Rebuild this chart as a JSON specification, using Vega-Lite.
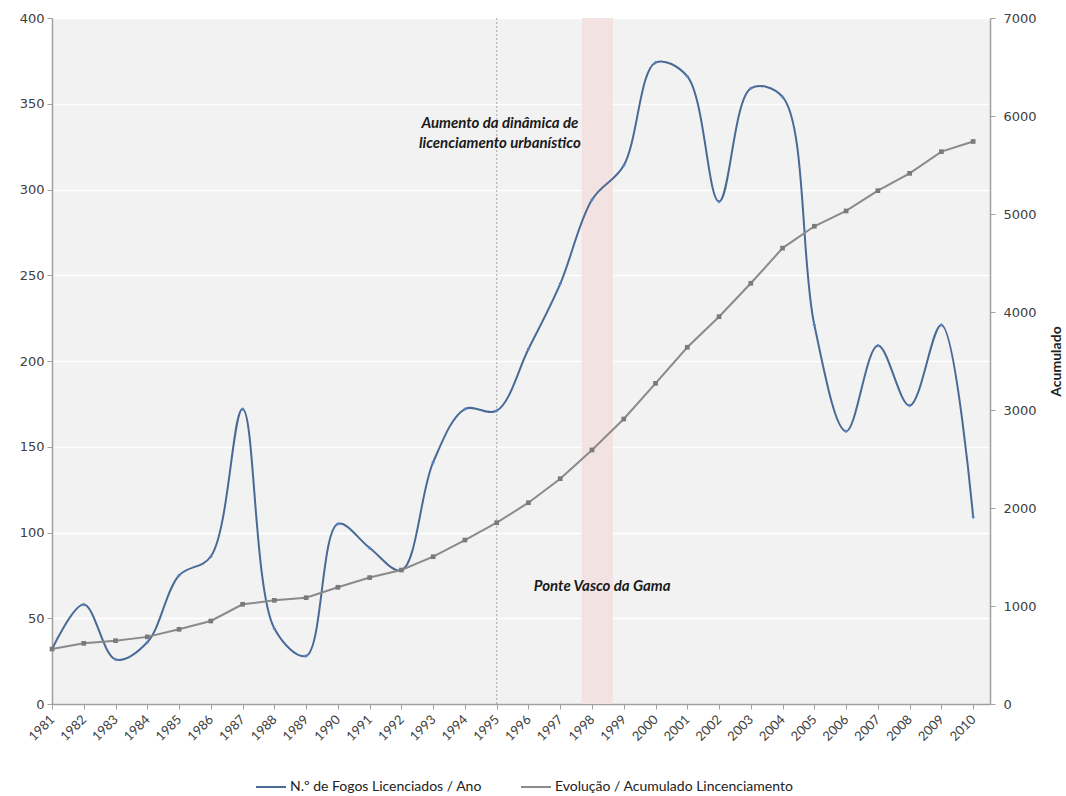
{
  "$schema": "https://vega.github.io/schema/vega-lite/v6.json",
  "autosize": {"type": "none"},
  "width": 938,
  "height": 686,
  "padding": {"left": 52, "top": 18, "right": 76, "bottom": 92},
  "background": "white",
  "config": {
    "view": {"fill": "#f2f2f2", "stroke": null},
    "axis": {"domainColor": "#a0a0a0", "tickColor": "#a0a0a0", "labelColor": "#404040", "domainWidth": 1.5},
    "axisX": {"labelOverlap": false, "labelAngle": -45, "labelAlign": "right", "labelBaseline": "middle", "labelFont": "Lato", "labelFontSize": 13, "tickSize": 5, "labelPadding": 8, "grid": false, "labelFlush": false}
  },
  "datasets": {
    "d": [
      {"year": 1981, "fogos": 32, "acum": 561},
      {"year": 1982, "fogos": 58, "acum": 619},
      {"year": 1983, "fogos": 26, "acum": 646},
      {"year": 1984, "fogos": 36, "acum": 685},
      {"year": 1985, "fogos": 75, "acum": 762},
      {"year": 1986, "fogos": 86, "acum": 847},
      {"year": 1987, "fogos": 172, "acum": 1017},
      {"year": 1988, "fogos": 44, "acum": 1058},
      {"year": 1989, "fogos": 28, "acum": 1085},
      {"year": 1990, "fogos": 105, "acum": 1191},
      {"year": 1991, "fogos": 91, "acum": 1290},
      {"year": 1992, "fogos": 78, "acum": 1367},
      {"year": 1993, "fogos": 141, "acum": 1503},
      {"year": 1994, "fogos": 172, "acum": 1673},
      {"year": 1995, "fogos": 171, "acum": 1850},
      {"year": 1996, "fogos": 207, "acum": 2054},
      {"year": 1997, "fogos": 245, "acum": 2299},
      {"year": 1998, "fogos": 294, "acum": 2592},
      {"year": 1999, "fogos": 314, "acum": 2908},
      {"year": 2000, "fogos": 374, "acum": 3272},
      {"year": 2001, "fogos": 366, "acum": 3640},
      {"year": 2002, "fogos": 293, "acum": 3952},
      {"year": 2003, "fogos": 359, "acum": 4293},
      {"year": 2004, "fogos": 354, "acum": 4652},
      {"year": 2005, "fogos": 221, "acum": 4875},
      {"year": 2006, "fogos": 159, "acum": 5031},
      {"year": 2007, "fogos": 209, "acum": 5238},
      {"year": 2008, "fogos": 174, "acum": 5415},
      {"year": 2009, "fogos": 221, "acum": 5636},
      {"year": 2010, "fogos": 109, "acum": 5740}
    ],
    "band": [{"from": 1997.68, "to": 1998.66}],
    "marker": [{"year": 1995}],
    "notes": [
      {"year": 1995.1, "value": 339, "label": "Aumento da dinâmica de"},
      {"year": 1995.1, "value": 327, "label": "licenciamento urbanístico"},
      {"year": 1998.32, "value": 69, "label": "Ponte Vasco da Gama"}
    ]
  },
  "layer": [
    {
      "layer": [
        {
          "data": {"name": "band"},
          "mark": {"type": "rect", "color": "#f3e2e2", "opacity": 1},
          "encoding": {
            "x": {
              "field": "from", "type": "quantitative", "scale": {"domain": [1981, 2010.53], "nice": false, "zero": false},
              "axis": {
                "values": [1981,1982,1983,1984,1985,1986,1987,1988,1989,1990,1991,1992,1993,1994,1995,1996,1997,1998,1999,2000,2001,2002,2003,2004,2005,2006,2007,2008,2009,2010],
                "tickCount": 60, "format": "d", "title": null, "labelOverlap": false
              }
            },
            "x2": {"field": "to"}
          }
        },
        {
          "data": {"name": "marker"},
          "mark": {"type": "rule", "color": "#a8a8a8", "strokeDash": [2, 2], "strokeWidth": 1},
          "encoding": {
            "x": {"field": "year", "type": "quantitative"}
          }
        },
        {
          "data": {"name": "d"},
          "mark": {"type": "line", "interpolate": "catmull-rom", "strokeWidth": 2},
          "encoding": {
            "x": {"field": "year", "type": "quantitative"},
            "y": {
              "field": "fogos", "type": "quantitative",
              "scale": {"domain": [0, 400], "nice": false},
              "axis": {
                "values": [0, 50, 100, 150, 200, 250, 300, 350, 400], "title": null, "grid": true, "gridColor": "#ffffff", "gridWidth": 1.5,
                "labelFont": "DejaVu Sans", "labelFontSize": 13, "tickSize": 5, "labelPadding": 3
              }
            },
            "color": {
              "datum": "N.º de Fogos Licenciados / Ano",
              "scale": {"domain": ["N.º de Fogos Licenciados / Ano", "Evolução / Acumulado Lincenciamento"], "range": ["#4a6a96", "#8a8a8a"]},
              "legend": {
                "title": null, "orient": "none", "direction": "horizontal", "legendX": 203, "legendY": 753,
                "labelFont": "Lato", "labelFontSize": 14, "labelColor": "#222222", "labelLimit": 0, "symbolType": "stroke", "symbolSize": 900,
                "symbolStrokeWidth": 2, "columnPadding": 35, "labelOffset": 3
              }
            }
          }
        },
        {
          "data": {"name": "d"},
          "mark": {"type": "point", "shape": "diamond", "filled": true, "size": 14, "color": "#5b86c5", "opacity": 1},
          "encoding": {
            "x": {"field": "year", "type": "quantitative"},
            "y": {"field": "fogos", "type": "quantitative"}
          }
        },
        {
          "data": {"name": "notes"},
          "mark": {"type": "text", "font": "Lato", "fontStyle": "italic", "fontWeight": "bold", "fontSize": 15, "color": "#1a1a1a", "align": "center", "baseline": "middle"},
          "encoding": {
            "x": {"field": "year", "type": "quantitative"},
            "y": {"field": "value", "type": "quantitative"},
            "text": {"field": "label"}
          }
        }
      ]
    },
    {
      "data": {"name": "d"},
      "layer": [
        {
          "mark": {"type": "line", "strokeWidth": 2},
          "encoding": {
            "x": {"field": "year", "type": "quantitative"},
            "y": {
              "field": "acum", "type": "quantitative",
              "scale": {"domain": [0, 7000], "nice": false},
              "axis": {
                "orient": "right", "values": [0, 1000, 2000, 3000, 4000, 5000, 6000, 7000], "format": "d", "grid": false,
                "title": "Acumulado", "titleFont": "Lato", "titleFontSize": 14, "titleFontWeight": "bold", "titleColor": "#222222",
                "titleAngle": 270, "titlePadding": 27,
                "labelFont": "DejaVu Sans", "labelFontSize": 13, "tickSize": 5, "labelPadding": 8
              }
            },
            "color": {"datum": "Evolução / Acumulado Lincenciamento"}
          }
        },
        {
          "mark": {"type": "point", "shape": "square", "filled": true, "size": 22, "color": "#7a7a7a", "opacity": 1},
          "encoding": {
            "x": {"field": "year", "type": "quantitative"},
            "y": {"field": "acum", "type": "quantitative"}
          }
        }
      ]
    }
  ],
  "resolve": {"scale": {"y": "independent"}}
}
